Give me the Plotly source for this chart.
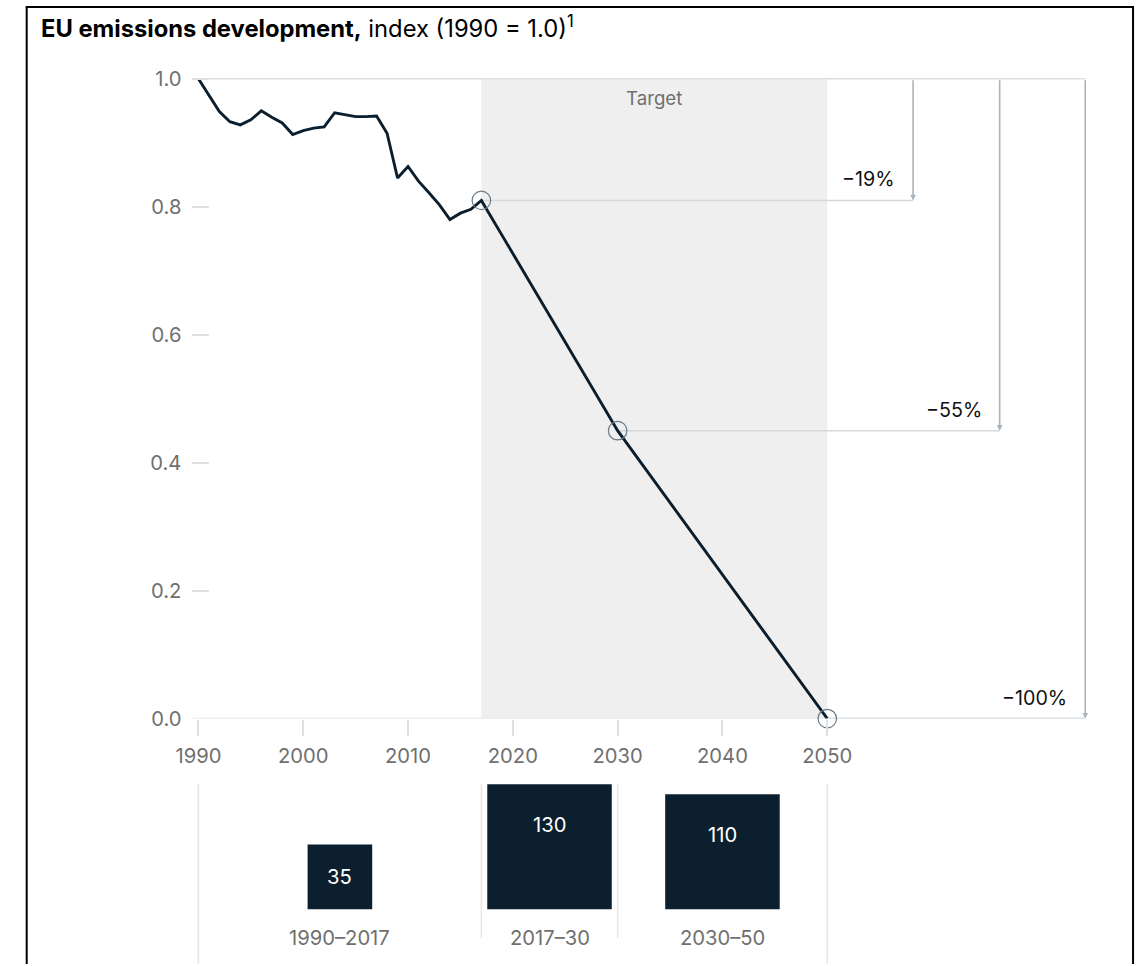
import plotly.graph_objects as go
import math

# ---------------- data ----------------
hist_years = list(range(1990, 2018))
hist_values = [1.000, 0.975, 0.949, 0.933, 0.928, 0.936, 0.950, 0.940, 0.931, 0.913,
               0.919, 0.923, 0.925, 0.947, 0.944, 0.941, 0.941, 0.942, 0.915, 0.845,
               0.863, 0.840, 0.822, 0.803, 0.780, 0.790, 0.796, 0.810]
target_years = [2017, 2030, 2050]
target_values = [0.810, 0.450, 0.000]
reduction_labels = ["\u221219%", "\u221255%", "\u2212100%"]

periods = ["1990\u20132017", "2017\u201330", "2030\u201350"]
period_start = [1990, 2017, 2030]
period_end = [2017, 2030, 2050]
period_values = [35, 130, 110]

x_tick_vals = [1990, 2000, 2010, 2020, 2030, 2040, 2050]
y_tick_vals = [0.0, 0.2, 0.4, 0.6, 0.8, 1.0]

# ---------------- page geometry (capture maps fig px -> screen: 11.75 + 0.9897*x, 0.9897*y) ----
S, OX = 0.9897, 11.75
W = 1141
H = int(round(966 / S))
FONT = "Inter"
NAVY = "#0b1e2d"
GRAY_TXT = "#707070"

def fx(X):          # screen px -> figure px
    return (X - OX) / S

def px_x(X):        # screen px -> paper fraction
    return fx(X) / W

def py(Y):
    return 1 - (Y / S) / H

def fs(size):       # font size compensation
    return size / S

px_per_year = 10.53          # screen px per year
x_left_px, x_right_px = 188, 1090
x0 = 1990 - (194 - x_left_px) / px_per_year
x1 = 1990 + (x_right_px - 194) / px_per_year

y_top_px, y_zero_px = 60, 720
px_per_unit = 641.0
y_max = 1 + (79 - y_top_px) / px_per_unit

arrow_x = [1990 + (912 - 194) / px_per_year,
           1990 + (999 - 194) / px_per_year,
           1990 + (1085 - 194) / px_per_year]
label_dx = 16 / px_per_year

fig = go.Figure()

fig.add_trace(go.Scatter(
    x=hist_years + target_years[1:], y=hist_values + target_values[1:],
    mode="lines", line=dict(color=NAVY, width=2.9), cliponaxis=False,
    hoverinfo="skip", showlegend=False))
fig.add_trace(go.Scatter(
    x=target_years, y=target_values, mode="markers", cliponaxis=False,
    marker=dict(symbol="circle-open", size=18.5, line=dict(color="#6d7b87", width=1.2),
                color="#6d7b87"),
    hoverinfo="skip", showlegend=False))

shapes = []
annotations = []

shapes.append(dict(type="rect", xref="x", yref="y", x0=target_years[0], x1=target_years[-1],
                   y0=0, y1=1.0, fillcolor="#efefef", line=dict(width=0), layer="below"))
shapes.append(dict(type="line", xref="x", yref="y", x0=1990, x1=arrow_x[-1], y0=1.0, y1=1.0,
                   line=dict(color="#dcdfe2", width=1.5), layer="below"))
shapes.append(dict(type="line", xref="x", yref="y", x0=x0, x1=arrow_x[-1], y0=0, y1=0,
                   line=dict(color="#dcdfe2", width=1.5), layer="below"))

for yr, v, ax_, lab in zip(target_years, target_values, arrow_x, reduction_labels):
    shapes.append(dict(type="line", xref="x", yref="y", x0=yr, x1=ax_, y0=v, y1=v,
                       line=dict(color="#d3d8dc", width=1.5), layer="below"))
    annotations.append(dict(x=ax_, y=v, xref="x", yref="y", ax=ax_, ay=1.0,
                            axref="x", ayref="y", showarrow=True, arrowhead=2,
                            arrowsize=0.7, arrowwidth=1.6, arrowcolor="#a9b3bc", text=""))
    annotations.append(dict(x=ax_ - label_dx, y=v + 21 / px_per_unit, xref="x", yref="y",
                            text=lab, showarrow=False, xanchor="right", yanchor="middle",
                            font=dict(family=FONT, size=fs(19.5), color="#111111")))

annotations.append(dict(x=(target_years[0] + target_years[-1]) / 2, y=1 - 20 / px_per_unit,
                        xref="x", yref="y", text="Target", showarrow=False,
                        xanchor="center", yanchor="middle",
                        font=dict(family=FONT, size=fs(18.5), color=GRAY_TXT)))

# bottom panel: squares with area proportional to value
base_px = 911
k_side = 10.97   # screen px per sqrt(unit)
for s, e, v, lab in zip(period_start, period_end, period_values, periods):
    mid = (s + e) / 2
    side = k_side * math.sqrt(v)
    half_years = side / 2 / px_per_year
    top_px = base_px - side
    shapes.append(dict(type="rect", xref="x", yref="paper",
                       x0=mid - half_years, x1=mid + half_years,
                       y0=py(base_px), y1=py(top_px),
                       fillcolor="#0b1f2e", line=dict(width=0)))
    annotations.append(dict(x=mid, y=py(top_px + min(side / 2, 40)), xref="x", yref="paper",
                            text=str(v), showarrow=False, xanchor="center", yanchor="middle",
                            font=dict(family=FONT, size=fs(20), color="white")))
    annotations.append(dict(x=mid, y=py(939), xref="x", yref="paper", text=lab,
                            showarrow=False, xanchor="center", yanchor="middle",
                            font=dict(family=FONT, size=fs(20), color=GRAY_TXT)))

for yr, bottom in [(1990, 966), (2017, 940), (2030, 940), (2050, 966)]:
    shapes.append(dict(type="line", xref="x", yref="paper", x0=yr, x1=yr,
                       y0=py(785), y1=py(bottom), line=dict(color="#e6e6e6", width=1.5),
                       layer="below"))

# frame border
shapes.append(dict(type="line", xref="paper", yref="paper", x0=px_x(21.5), x1=px_x(21.5),
                   y0=py(7), y1=0, line=dict(color="black", width=2)))
shapes.append(dict(type="line", xref="paper", yref="paper", x0=px_x(1133), x1=px_x(1133),
                   y0=py(7), y1=0, line=dict(color="black", width=2)))
shapes.append(dict(type="line", xref="paper", yref="paper", x0=px_x(20.5), x1=px_x(1134),
                   y0=py(7), y1=py(7), line=dict(color="black", width=2)))

annotations.append(dict(x=px_x(34), y=py(27), xref="paper", yref="paper",
                        text="<b>EU emissions development,</b> index (1990 = 1.0)<sup>1</sup>",
                        showarrow=False, xanchor="left", yanchor="middle",
                        font=dict(family=FONT, size=fs(23.5), color="black")))

fig.update_layout(
    width=W, height=H, margin=dict(l=0, r=0, t=0, b=0),
    paper_bgcolor="white", plot_bgcolor="rgba(0,0,0,0)",
    showlegend=False, shapes=shapes, annotations=annotations,
    xaxis=dict(domain=[px_x(x_left_px), px_x(x_right_px)], range=[x0, x1],
               tickvals=x_tick_vals, ticktext=[str(v) for v in x_tick_vals],
               ticks="outside", ticklen=16, tickwidth=1.5, tickcolor="#e0e0e0",
               showgrid=False, zeroline=False, showline=False,
               tickfont=dict(family=FONT, size=fs(20), color=GRAY_TXT), ticklabelstandoff=3,
               fixedrange=True),
    yaxis=dict(domain=[py(y_zero_px), py(y_top_px)], range=[0, y_max],
               tickvals=y_tick_vals, ticktext=[f"{v:.1f}" for v in y_tick_vals],
               ticks="inside", ticklen=17, tickwidth=1.5, tickcolor="#e0e0e0",
               showgrid=False, zeroline=False, showline=False,
               tickfont=dict(family=FONT, size=fs(20), color=GRAY_TXT), ticklabelstandoff=10,
               fixedrange=True),
    font=dict(family=FONT),
)

fig.write_html("out.html")
